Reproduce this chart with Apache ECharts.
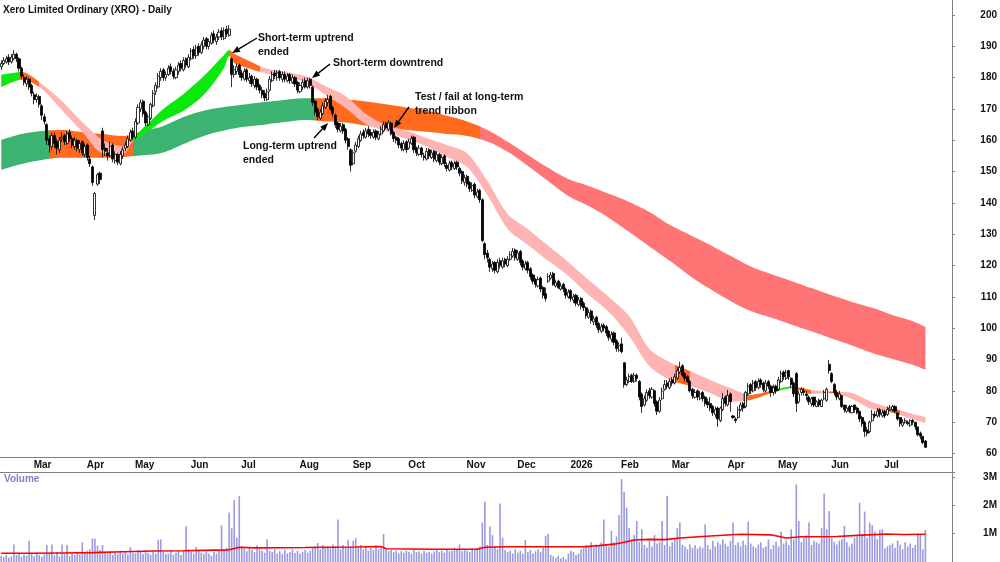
<!DOCTYPE html>
<html>
<head>
<meta charset="utf-8">
<script src="https://cdn.jsdelivr.net/npm/echarts@6.0.0/dist/echarts.min.js"></script>
<style>
  html, body { margin: 0; padding: 0; background: #fff; }
  #chart { width: 1000px; height: 562px; }
</style>
</head>
<body>
<div id="chart"></div>
<script>
// XRO daily, 13 Feb 2025 - 24 Jul 2026
const startDate = '2025-02-13';
const holidays = ['2025-04-18', '2025-04-21', '2025-04-25', '2025-06-09', '2025-12-25', '2025-12-26',
  '2026-01-01', '2026-01-26', '2026-04-03', '2026-04-06', '2026-06-08'];
const monthNames = ['Jan', 'Feb', 'Mar', 'Apr', 'May', 'Jun', 'Jul', 'Aug', 'Sep', 'Oct', 'Nov', 'Dec'];

const opens = [
  183.5, 184.5, 185.0, 186.5, 185.0, 186.0, 187.5, 186.0, 183.0, 180.0,
  178.0, 179.5, 177.5, 174.5, 173.0, 174.0, 171.0, 167.5, 165.0, 160.5,
  158.0, 161.5, 159.5, 157.0, 160.5, 161.5, 159.0, 162.5, 160.5, 158.0,
  160.0, 157.0, 159.5, 155.5, 158.5, 154.0, 151.5, 136.0, 146.0, 149.5,
  163.0, 157.5, 156.0, 155.0, 158.5, 153.5, 155.5, 152.5, 155.0, 157.5,
  158.0, 160.0, 163.0, 161.0, 165.5, 170.0, 172.5, 169.0, 165.0, 167.0,
  171.0, 175.5, 177.0, 180.0, 182.5, 180.0, 181.0, 183.5, 182.0, 180.0,
  182.0, 184.5, 182.5, 186.0, 183.5, 186.0, 189.0, 187.0, 190.0, 188.0,
  190.0, 192.5, 190.0, 191.0, 194.0, 191.5, 193.0, 195.0, 192.5, 195.5,
  193.5, 186.0, 181.0, 182.0, 184.0, 181.5, 179.5, 182.5, 179.0, 180.5,
  177.5, 179.5, 177.5, 176.0, 175.0, 173.0, 176.0, 179.0, 181.5, 180.0,
  182.0, 179.5, 181.0, 179.0, 181.0, 178.5, 180.0, 178.5, 175.5, 177.0,
  179.0, 177.0, 179.5, 177.0, 172.5, 170.0, 167.0, 168.5, 170.5, 172.0,
  174.0, 170.5, 168.0, 165.5, 163.0, 165.0, 163.5, 160.5, 157.0, 152.5,
  156.5, 158.0, 160.0, 162.5, 161.0, 163.5, 162.5, 161.0, 163.0, 160.5,
  162.0, 163.0, 165.5, 163.5, 165.5, 162.5, 161.0, 160.5, 159.0, 157.0,
  159.5, 157.5, 159.0, 161.0, 157.5, 155.5, 157.5, 155.0, 154.0, 157.0,
  154.5, 156.5, 153.5, 155.5, 152.5, 155.0, 152.0, 150.5, 153.0, 151.0,
  153.0, 151.0, 150.0, 146.5, 148.5, 146.5, 144.0, 146.0, 142.0, 144.0,
  141.0, 127.0, 124.0, 122.0, 119.0, 121.0, 118.0, 121.5, 119.5, 122.0,
  120.0, 122.0, 123.0, 125.0, 122.0, 124.5, 121.5, 119.0, 121.0, 119.0,
  117.0, 115.5, 113.5, 116.0, 113.0, 111.0, 115.0, 116.0, 117.5, 113.5,
  115.0, 112.5, 114.0, 112.5, 110.0, 112.0, 109.0, 110.5, 107.5, 109.5,
  108.0, 106.5, 103.5, 105.5, 102.0, 103.5, 101.5, 99.0, 101.0, 100.5,
  99.0, 96.5, 98.5, 96.0, 93.0, 95.0, 89.0, 82.0, 83.0, 85.0,
  83.0, 85.0, 83.0, 79.0, 75.5, 77.0, 80.0, 78.0, 80.0, 76.5,
  73.5, 77.5, 80.5, 82.5, 81.0, 83.5, 82.5, 84.0, 86.0, 88.0,
  85.5, 84.5, 83.0, 80.5, 78.0, 80.0, 77.5, 79.5, 78.0, 76.5,
  76.0, 75.0, 72.5, 74.5, 70.5, 74.0, 78.0, 75.5, 79.0, 72.0,
  71.0, 71.5, 74.0, 76.0, 75.0, 79.0, 82.0, 80.0, 83.0, 81.0,
  83.5, 82.5, 80.0, 83.0, 81.5, 79.5, 81.5, 80.5, 83.0, 86.0,
  84.0, 86.5, 84.0, 82.5, 85.5, 76.5, 79.5, 80.0, 79.0, 78.0,
  76.0, 78.0, 75.0, 77.0, 75.0, 77.5, 77.0, 88.5, 85.5, 82.0,
  79.5, 77.5, 78.5, 75.5, 73.5, 75.0, 73.0, 75.5, 74.5, 73.5,
  71.5, 70.0, 67.5, 67.0, 70.5, 72.5, 72.0, 74.0, 72.0, 73.5,
  72.5, 74.0, 74.0, 75.0, 73.0, 71.5, 69.0, 70.0, 70.0, 69.0,
  70.5, 70.0, 68.5, 66.5, 65.5, 64.0
];
const highs = [
  185.5, 186.5, 187.0, 187.5, 187.5, 188.8, 188.0, 186.5, 183.5, 181.0,
  180.5, 180.0, 178.0, 175.5, 175.0, 174.5, 171.5, 168.5, 165.5, 161.5,
  162.5, 162.5, 160.5, 161.0, 162.5, 162.0, 163.0, 163.5, 161.5, 161.0,
  160.5, 160.0, 160.0, 159.0, 159.0, 155.0, 152.0, 143.5, 149.5, 150.0,
  164.0, 159.0, 157.5, 159.5, 159.0, 156.5, 156.0, 156.5, 158.0, 159.5,
  161.5, 163.5, 164.0, 167.0, 171.5, 173.0, 173.0, 169.5, 168.5, 172.0,
  176.0, 178.5, 181.5, 183.0, 183.0, 182.0, 184.0, 184.5, 183.0, 183.5,
  185.0, 185.5, 186.5, 186.5, 187.5, 189.5, 190.0, 190.5, 191.0, 191.5,
  193.0, 193.0, 192.5, 194.5, 195.0, 194.0, 195.5, 196.0, 196.0, 196.5,
  196.8, 186.5, 184.0, 184.5, 184.5, 182.5, 183.0, 183.0, 181.5, 181.0,
  180.5, 180.0, 178.0, 177.0, 176.0, 176.5, 180.5, 182.0, 182.5, 182.5,
  182.5, 182.0, 182.0, 181.5, 181.5, 181.0, 180.5, 179.0, 178.5, 179.5,
  180.0, 180.0, 180.0, 177.5, 173.0, 170.5, 170.0, 172.0, 173.5, 174.5,
  174.5, 171.0, 168.5, 166.0, 165.5, 165.5, 164.0, 161.0, 157.5, 157.0,
  159.5, 161.5, 163.0, 163.5, 164.0, 164.5, 163.5, 163.5, 163.5, 163.0,
  164.5, 166.0, 166.0, 166.5, 166.0, 163.0, 161.5, 161.0, 159.5, 160.0,
  160.0, 160.5, 161.5, 161.5, 158.0, 158.5, 158.0, 156.0, 157.5, 157.5,
  157.0, 157.0, 156.5, 156.0, 155.5, 155.5, 153.0, 153.5, 153.5, 153.5,
  153.5, 151.5, 150.5, 149.0, 149.0, 147.0, 146.5, 146.5, 144.5, 144.5,
  141.5, 127.5, 125.0, 122.5, 121.5, 121.5, 122.0, 122.5, 122.5, 122.5,
  123.0, 124.5, 125.6, 125.5, 125.0, 125.0, 122.0, 121.5, 121.5, 119.5,
  117.5, 116.0, 116.5, 116.5, 113.5, 113.0, 117.5, 118.0, 118.0, 115.5,
  115.5, 114.5, 114.5, 113.0, 112.5, 112.5, 111.0, 111.0, 110.0, 110.0,
  108.5, 107.0, 106.0, 106.0, 104.0, 104.0, 102.0, 101.5, 101.6, 101.0,
  99.5, 99.0, 99.0, 96.5, 95.5, 97.0, 89.0, 84.5, 85.5, 85.5,
  85.7, 85.5, 83.5, 79.5, 78.5, 80.5, 81.0, 81.2, 80.3, 77.0,
  78.0, 81.0, 83.5, 83.5, 84.0, 84.4, 85.5, 87.5, 89.3, 88.5,
  86.0, 85.0, 83.5, 81.0, 80.5, 80.5, 80.0, 80.0, 78.5, 77.5,
  78.0, 75.5, 75.0, 75.0, 75.0, 79.3, 78.5, 80.3, 79.5, 72.3,
  71.5, 75.0, 76.4, 76.5, 80.0, 82.5, 82.5, 83.5, 83.5, 84.0,
  84.0, 83.0, 83.5, 83.5, 82.0, 82.0, 82.0, 84.5, 86.5, 86.5,
  86.7, 86.7, 84.4, 83.0, 86.0, 80.0, 81.2, 81.0, 80.0, 78.5,
  78.0, 78.0, 77.0, 77.5, 77.5, 80.3, 81.0, 89.9, 86.0, 82.5,
  80.3, 80.0, 78.5, 75.5, 75.5, 75.5, 75.5, 75.5, 75.0, 73.5,
  72.0, 70.5, 68.5, 70.5, 73.9, 73.5, 74.5, 74.5, 74.0, 74.0,
  75.0, 75.5, 75.5, 75.5, 73.0, 71.6, 71.0, 71.3, 70.5, 71.0,
  71.0, 70.0, 68.5, 67.0, 65.5, 64.3
];
const lows = [
  182.5, 184.0, 184.5, 184.0, 184.5, 185.5, 185.0, 182.0, 179.5, 177.5,
  177.0, 176.0, 174.0, 171.5, 172.0, 170.5, 166.5, 165.0, 158.5, 156.0,
  157.0, 157.5, 155.5, 156.0, 159.5, 158.5, 158.5, 159.5, 157.5, 157.0,
  156.5, 156.0, 155.0, 154.5, 153.5, 151.5, 145.5, 134.5, 145.5, 146.0,
  154.5, 155.0, 153.5, 154.5, 153.0, 152.5, 152.0, 152.0, 154.0, 156.5,
  157.5, 159.5, 160.0, 160.5, 165.0, 169.0, 167.5, 164.5, 164.5, 166.5,
  170.5, 174.5, 176.5, 179.0, 179.0, 179.0, 180.5, 181.0, 179.5, 179.5,
  181.0, 182.0, 182.0, 183.0, 183.0, 185.5, 186.0, 186.0, 187.0, 187.5,
  189.0, 189.0, 189.0, 190.5, 191.0, 190.5, 192.0, 192.0, 192.0, 193.0,
  193.0, 177.0, 180.0, 181.0, 180.0, 179.0, 179.0, 178.5, 178.0, 177.0,
  176.5, 176.0, 175.0, 173.5, 172.5, 172.5, 175.5, 178.5, 179.5, 179.0,
  179.0, 178.5, 178.5, 178.5, 178.0, 178.0, 177.0, 175.0, 175.0, 176.0,
  176.5, 176.5, 176.5, 171.0, 168.0, 166.5, 166.5, 168.0, 170.0, 171.0,
  169.5, 167.5, 164.0, 162.5, 162.5, 162.0, 159.0, 157.0, 150.0, 152.0,
  156.0, 157.5, 159.5, 160.5, 160.5, 161.0, 160.5, 160.5, 160.0, 160.0,
  161.5, 162.5, 163.5, 163.0, 161.5, 159.5, 159.0, 157.5, 156.5, 156.5,
  156.0, 157.0, 158.5, 156.0, 155.0, 155.0, 154.5, 153.5, 153.5, 154.0,
  154.0, 153.0, 153.0, 152.0, 152.0, 151.5, 150.0, 150.0, 150.5, 150.5,
  150.5, 148.5, 146.0, 145.5, 145.0, 143.5, 143.5, 141.5, 141.5, 140.0,
  127.5, 122.0, 121.0, 118.0, 118.0, 117.5, 117.5, 119.0, 119.0, 119.5,
  119.5, 121.5, 122.5, 121.5, 121.5, 120.0, 118.5, 118.5, 117.5, 115.5,
  114.0, 113.0, 113.0, 111.5, 109.5, 108.5, 114.5, 115.5, 113.5, 113.0,
  112.5, 112.0, 111.5, 109.5, 109.5, 108.5, 108.0, 107.0, 107.0, 106.0,
  105.5, 103.0, 103.0, 101.5, 101.0, 100.0, 98.5, 98.5, 99.0, 97.5,
  96.0, 95.5, 94.5, 92.5, 92.5, 92.0, 81.0, 81.5, 82.5, 82.5,
  82.5, 83.0, 77.0, 73.0, 75.0, 76.5, 77.5, 77.5, 75.0, 72.3,
  73.0, 77.0, 80.0, 80.5, 80.5, 81.5, 82.0, 83.5, 85.5, 84.5,
  83.0, 82.5, 79.5, 77.5, 77.5, 77.0, 77.0, 76.5, 75.0, 74.5,
  73.5, 72.0, 71.5, 68.5, 70.0, 73.5, 75.0, 75.0, 73.3, 71.0,
  69.7, 71.0, 73.5, 73.3, 74.5, 78.5, 79.0, 79.5, 80.0, 80.5,
  81.0, 79.6, 79.5, 80.5, 78.0, 78.5, 79.0, 80.0, 82.5, 83.5,
  83.5, 83.5, 81.0, 78.0, 73.3, 76.0, 78.5, 78.5, 77.0, 75.5,
  75.0, 74.8, 74.8, 74.8, 74.8, 77.0, 76.5, 85.5, 82.5, 78.5,
  77.0, 77.0, 74.5, 73.0, 73.0, 72.9, 72.9, 73.0, 72.5, 70.0,
  68.5, 65.3, 65.5, 66.5, 70.0, 71.3, 71.5, 71.5, 71.5, 71.3,
  72.0, 73.5, 73.5, 72.9, 70.5, 68.5, 68.5, 69.5, 69.0, 68.5,
  69.0, 67.5, 65.5, 64.5, 63.0, 61.8
];
const closes = [
  184.5, 185.5, 186.0, 185.0, 186.5, 187.5, 186.0, 183.0, 180.5, 178.5,
  179.5, 177.0, 175.0, 173.0, 174.0, 171.5, 168.0, 166.0, 160.0, 158.5,
  161.5, 159.0, 157.5, 160.0, 161.0, 159.5, 162.0, 160.5, 158.5, 160.0,
  157.5, 159.0, 156.0, 158.0, 154.5, 152.5, 146.5, 143.0, 149.0, 147.5,
  157.0, 156.5, 155.0, 158.0, 154.0, 155.5, 153.0, 155.5, 157.0, 158.5,
  160.5, 162.5, 161.0, 166.0, 170.5, 172.0, 168.5, 165.5, 167.5, 171.5,
  175.0, 177.5, 180.5, 182.0, 180.0, 181.0, 183.0, 182.0, 180.5, 182.5,
  184.0, 183.0, 185.5, 184.0, 186.5, 188.5, 187.0, 189.5, 188.0, 190.5,
  192.0, 190.0, 191.5, 193.5, 192.0, 193.0, 194.5, 193.0, 195.0, 194.0,
  195.5, 181.0, 182.5, 183.5, 181.0, 180.0, 182.0, 179.5, 180.0, 178.0,
  179.5, 177.0, 176.0, 174.5, 173.5, 175.5, 179.5, 181.0, 180.5, 181.5,
  180.0, 181.0, 179.5, 180.5, 179.0, 180.0, 178.0, 176.0, 177.5, 178.5,
  177.0, 179.0, 177.5, 172.0, 169.0, 167.5, 169.0, 171.0, 172.5, 173.0,
  170.0, 168.5, 165.0, 163.5, 164.5, 163.0, 160.0, 158.0, 152.0, 156.0,
  158.5, 160.5, 162.0, 161.5, 163.0, 162.0, 161.5, 162.5, 161.0, 162.0,
  163.5, 165.0, 164.0, 165.5, 162.0, 160.5, 160.0, 158.5, 157.5, 159.0,
  157.0, 159.5, 160.5, 157.0, 156.0, 157.5, 155.5, 154.5, 156.5, 155.0,
  156.0, 154.0, 155.5, 153.0, 154.5, 152.5, 151.0, 152.5, 151.5, 152.5,
  151.5, 149.5, 147.0, 148.0, 146.0, 144.5, 145.5, 142.5, 143.5, 141.0,
  128.0, 123.5, 122.5, 119.5, 120.5, 118.5, 121.0, 120.0, 121.5, 120.5,
  122.0, 123.5, 124.5, 122.5, 124.0, 121.0, 119.5, 120.5, 118.5, 116.5,
  115.0, 114.0, 115.5, 112.5, 110.5, 109.5, 116.5, 117.0, 114.0, 114.5,
  113.0, 113.5, 112.5, 110.5, 111.5, 109.5, 110.0, 108.0, 109.0, 107.0,
  106.5, 104.0, 105.0, 102.5, 103.0, 101.0, 99.5, 100.5, 100.0, 98.5,
  97.0, 98.0, 95.5, 93.5, 94.5, 92.5, 82.0, 83.5, 84.5, 83.0,
  85.0, 84.0, 78.0, 75.0, 77.5, 79.5, 78.5, 80.5, 76.0, 73.5,
  77.0, 80.0, 82.0, 81.5, 83.0, 82.5, 84.5, 86.5, 87.5, 85.0,
  84.0, 83.0, 80.0, 78.5, 79.5, 78.0, 79.0, 77.5, 76.0, 75.5,
  74.5, 73.0, 74.0, 71.0, 74.5, 77.5, 76.0, 78.5, 76.5, 71.5,
  70.5, 74.0, 75.5, 74.5, 79.5, 81.5, 80.0, 82.5, 81.0, 83.0,
  82.0, 80.5, 82.5, 81.5, 79.5, 81.0, 80.0, 83.5, 85.5, 84.5,
  86.0, 84.5, 82.0, 79.0, 76.0, 79.0, 80.5, 79.5, 78.5, 76.5,
  77.5, 75.5, 76.5, 75.5, 77.0, 79.5, 80.5, 86.5, 83.0, 79.5,
  78.0, 79.0, 75.0, 74.0, 74.5, 73.5, 75.0, 74.0, 73.0, 71.0,
  69.5, 67.0, 66.5, 70.0, 72.5, 72.0, 73.5, 72.5, 73.0, 72.0,
  74.0, 74.5, 75.0, 73.5, 71.0, 69.5, 70.0, 70.5, 69.5, 70.5,
  70.0, 68.5, 66.0, 65.5, 63.5, 62.0
];
// volume in millions of shares
const volumes = [
  0.22, 0.18, 0.25, 0.15, 0.2, 0.62, 0.24, 0.3, 0.19, 0.26,
  0.22, 0.75, 0.28, 0.2, 0.33, 0.25, 0.18, 0.27, 0.6, 0.3,
  0.62, 0.24, 0.35, 0.2, 0.62, 0.28, 0.6, 0.22, 0.3, 0.25,
  0.32, 0.27, 0.7, 0.36, 0.4, 0.45, 0.83, 0.82, 0.58, 0.42,
  0.6, 0.35, 0.3, 0.38, 0.25, 0.33, 0.28, 0.4, 0.3, 0.35,
  0.27, 0.52, 0.33, 0.3, 0.42, 0.36, 0.28, 0.4, 0.32, 0.26,
  0.38, 0.3, 0.78, 0.8, 0.35, 0.28, 0.3, 0.4, 0.26, 0.33,
  0.38, 0.25, 0.4, 1.26, 0.45, 0.36, 0.3, 0.53, 0.42, 0.33,
  0.28, 0.38, 0.3, 0.22, 0.35, 0.3, 0.4, 1.3, 0.45, 0.5,
  1.75, 1.19, 2.19, 0.86, 2.33, 0.55, 0.48, 0.38, 0.5, 0.42,
  0.35, 0.58, 0.45, 0.4, 0.33, 0.8, 0.4, 0.35, 0.45, 0.3,
  0.38, 0.28, 0.42, 0.3, 0.35, 0.45, 0.32, 0.4, 0.3, 0.36,
  0.42, 0.33, 0.4, 0.5, 0.55, 0.67, 0.45, 0.6, 0.5, 0.55,
  0.48, 0.62, 0.55, 1.5, 0.45, 0.6, 0.5, 0.79, 0.55, 0.75,
  0.84, 0.5, 0.6, 0.45, 0.55, 0.4, 0.5, 0.42, 0.6, 0.45,
  0.5, 0.99, 0.45, 0.38, 0.42, 0.35, 0.4, 0.3, 0.38, 0.33,
  0.4, 0.36, 0.3, 0.42, 0.35, 0.38, 0.3, 0.4, 0.33, 0.36,
  0.3, 0.38, 0.42, 0.35, 0.4, 0.33, 0.45, 0.38, 0.4, 0.5,
  0.42, 0.62, 0.38, 0.45, 0.4, 0.35, 0.48, 0.42, 0.5, 0.55,
  1.4, 2.13, 0.6, 1.25, 0.95, 0.55, 0.45, 2.07, 0.86, 0.42,
  0.35, 0.4, 0.3, 0.45, 0.33, 0.4, 0.3, 0.78, 0.35, 0.42,
  0.3, 0.38, 0.45, 0.35, 0.5, 0.92, 1.0, 0.25, 0.2, 0.15,
  0.22, 0.12, 0.18, 0.1, 0.3, 0.4, 0.35, 0.25, 0.3, 0.45,
  0.5, 0.6, 0.55, 0.7, 0.5, 0.62, 0.58, 0.7, 1.5, 0.6,
  0.55, 1.1, 0.7, 0.9, 1.66, 2.93, 2.48, 1.92, 1.21, 0.8,
  0.95, 1.45, 0.7, 1.16, 0.6, 0.5, 0.75, 0.55, 0.95, 0.65,
  0.7, 1.45, 0.6, 2.34, 0.55, 0.7, 0.85, 1.19, 1.4, 0.6,
  0.55, 0.45, 0.62, 0.5, 0.6, 0.48, 0.55, 0.5, 1.33, 0.6,
  0.45, 0.75, 0.55, 0.7, 0.62, 0.8, 0.65, 0.55, 0.75, 1.4,
  0.6, 0.7, 0.55, 0.75, 0.6, 1.42, 0.65, 0.55, 0.5, 0.62,
  0.7, 0.5, 0.55, 0.8, 0.45, 0.6, 0.72, 0.55, 1.07, 0.65,
  0.75, 0.6, 1.16, 0.8, 2.74, 1.45, 0.7, 0.85, 0.95, 1.4,
  0.6, 0.75, 0.7, 0.65, 1.19, 2.42, 1.16, 1.8, 0.85, 0.7,
  0.62, 0.75, 0.8, 1.28, 0.7, 0.55, 0.65, 0.85, 0.9, 2.09,
  0.95, 1.78, 0.85, 1.39, 1.3, 1.07, 0.8, 1.13, 1.16, 0.48,
  0.55, 0.6, 0.66, 0.5, 0.75, 0.62, 0.45, 0.7, 0.55, 0.65,
  0.5, 0.6, 1.0, 0.99, 0.45, 1.13
];

// volume moving average, read at these bar numbers
const volMaIdx = [0, 12, 24, 36, 48, 60, 72, 84, 90, 94, 100, 120, 140, 150, 152, 170, 188, 191, 200, 215,
  230, 236, 242, 246, 250, 256, 262, 268, 280, 292, 304, 310, 316, 330, 340, 350, 356, 365];
const volMa = [0.31, 0.31, 0.32, 0.33, 0.36, 0.39, 0.4, 0.42, 0.43, 0.52, 0.5, 0.51, 0.53, 0.55, 0.47, 0.45, 0.45, 0.52, 0.54, 0.54,
  0.54, 0.58, 0.63, 0.7, 0.78, 0.8, 0.79, 0.85, 0.92, 0.98, 0.96, 0.85, 0.89, 0.9, 0.95, 0.99, 0.97, 0.98];

// long-term ribbon edges
const ltIdx = [0, 8, 16, 24, 32, 40, 48, 56, 64, 72, 80, 88, 96, 104, 112, 120, 128, 136, 144, 152, 160, 168, 176, 184,
  192, 200, 208, 216, 224, 232, 240, 248, 256, 264, 272, 280, 288, 296, 304, 312, 320, 328, 336, 344, 352, 360, 365];
const ltTop = [160.1, 162.0, 163.0, 163.3, 162.6, 162.0, 161.4, 163.0, 164.6, 167.4, 169.4, 170.6, 171.4, 172.2, 172.9, 173.4,
  173.4, 173.0, 172.4, 171.5, 170.5, 169.4, 167.8, 166.0, 163.3, 159.5, 155.3, 151.2, 147.6, 145.4, 142.9, 140.3,
  137.1, 133.0, 129.8, 126.6, 123.1, 119.7, 117.3, 115.1, 112.8, 110.5, 108.4, 106.5, 104.2, 102.2, 100.4];
const ltBot = [150.5, 152.4, 153.7, 154.4, 154.4, 154.4, 154.7, 155.2, 156.1, 158.8, 161.4, 163.1, 164.3, 165.0, 165.8, 166.5,
  166.0, 165.7, 164.7, 163.9, 163.3, 162.7, 162.0, 161.4, 159.6, 156.3, 151.8, 147.0, 142.2, 139.0, 135.2, 130.7,
  126.1, 121.5, 116.7, 112.5, 108.7, 105.5, 103.4, 101.2, 99.0, 96.7, 94.5, 92.1, 90.2, 88.3, 86.7];
const ltStateStart = [0, 19, 52, 124, 189];
const ltState = ['up', 'flat', 'up', 'flat', 'down'];

// short-term ribbon edges
const stIdx = [0, 8, 16, 24, 32, 40, 48, 52, 56, 64, 72, 80, 88, 90, 92, 96, 104, 112, 120, 128, 136, 144, 152, 160, 168,
  176, 184, 192, 200, 208, 216, 224, 232, 240, 248, 256, 264, 272, 280, 288, 296, 304, 312, 320, 328, 336, 344, 352, 360, 365];
const stTop = [180.9, 181.8, 178.0, 172.5, 165.8, 160.1, 158.2, 160.7, 163.9, 170.0, 174.8, 180.5, 187.2, 188.8, 187.6, 186.0,
  183.1, 181.8, 180.5, 177.3, 174.1, 168.4, 164.9, 163.1, 160.7, 158.5, 155.9, 147.0, 136.5, 131.7, 126.3, 121.1,
  115.4, 110.0, 103.9, 93.4, 89.2, 86.3, 83.5, 80.9, 78.7, 80.0, 81.4, 80.3, 79.8, 79.3, 76.4, 74.5, 72.6, 71.7];
const stBot = [176.9, 179.3, 176.4, 169.6, 162.7, 155.9, 155.6, 159.8, 161.7, 166.2, 169.4, 174.5, 183.1, 186.9, 184.7, 183.4,
  181.5, 180.2, 178.6, 174.5, 170.3, 165.2, 162.8, 160.4, 158.0, 154.7, 151.5, 142.5, 131.7, 126.6, 121.5, 116.7,
  110.6, 105.2, 97.5, 87.9, 83.5, 81.6, 79.3, 76.6, 77.1, 79.2, 80.8, 79.0, 79.2, 77.4, 74.1, 73.0, 70.9, 69.7];
const stStateStart = [0, 7, 15, 52, 90, 102, 266, 272, 293, 306, 312, 320, 327, 331, 351, 355];
const stState = ['up', 'flat', 'down', 'up', 'flat', 'down', 'flat', 'down', 'flat', 'up', 'flat', 'down', 'flat', 'down', 'flat', 'down'];

const ltColors = { up: '#3cb371', flat: '#ff6a1f', down: '#ff7474' };
const stColors = { up: '#0be80b', flat: '#ff6a1f', down: '#ffb4b4' };

// trading-day categories (+ empty room on the right)
const padDays = 10;
const dates = [];
(function () {
  const d = new Date(startDate + 'T00:00:00Z');
  while (dates.length < closes.length + padDays) {
    const s = d.toISOString().slice(0, 10);
    const wd = d.getUTCDay();
    if (wd !== 0 && wd !== 6 && holidays.indexOf(s) < 0) dates.push(s);
    d.setUTCDate(d.getUTCDate() + 1);
  }
})();
function isMonthStart(i) {
  return i > 0 && i < closes.length && dates[i].slice(5, 7) !== dates[i - 1].slice(5, 7);
}

function pieces(starts, states, colors) {
  return starts.map((s, k) => ({
    gte: s, lt: k + 1 < starts.length ? starts[k + 1] : 100000, color: colors[states[k]]
  }));
}

function ribbon(name, idx, top, bot, smooth) {
  return [
    {
      name: name + 'base', type: 'line', stack: name, xAxisIndex: 0, yAxisIndex: 0,
      data: idx.map((d, k) => [d, bot[k]]), symbol: 'none', smooth: smooth,
      lineStyle: { width: 0, opacity: 0 }, silent: true
    },
    {
      name: name, type: 'line', stack: name, xAxisIndex: 0, yAxisIndex: 0,
      data: idx.map((d, k) => [d, +(top[k] - bot[k]).toFixed(2)]), symbol: 'none', smooth: smooth,
      lineStyle: { width: 0 }, areaStyle: { opacity: 1 }, silent: true
    }
  ];
}

function arrow(x1, y1, x2, y2) {
  const a = Math.atan2(y2 - y1, x2 - x1), len = 8, w = 3.2;
  const bx = x2 - len * Math.cos(a), by = y2 - len * Math.sin(a);
  const nx = -Math.sin(a) * w, ny = Math.cos(a) * w;
  return [
    { type: 'line', shape: { x1: x1, y1: y1, x2: bx, y2: by }, style: { stroke: '#000', lineWidth: 1.4 }, z: 100 },
    { type: 'polygon', shape: { points: [[x2, y2], [bx + nx, by + ny], [bx - nx, by - ny]] }, style: { fill: '#000' }, z: 100 }
  ];
}

const font = '"Liberation Sans", Arial, sans-serif';
function label(text, x, y, size) {
  return {
    type: 'text', x: x, y: y, z: 100,
    style: { text: text, fill: '#111', font: 'bold ' + (size || 10.5) + 'px ' + font, lineHeight: 14, verticalAlign: 'top' }
  };
}

const chart = echarts.init(document.getElementById('chart'));
chart.setOption({
  animation: false,
  backgroundColor: '#fff',
  textStyle: { fontFamily: font },
  grid: [
    { left: 0, right: 48, top: 15, height: 438.5 },
    { left: 0, right: 48, top: 472, height: 90 }
  ],
  xAxis: [
    {
      type: 'category', gridIndex: 0, data: dates, offset: 3.5,
      axisLine: { lineStyle: { color: '#808080', width: 1 } },
      axisTick: { alignWithLabel: true, length: 3, interval: isMonthStart, lineStyle: { color: '#808080' } },
      axisLabel: {
        interval: isMonthStart, align: 'left', margin: 3, padding: [0, 0, 0, 2],
        fontSize: 10, fontWeight: 'bold', color: '#111',
        formatter: v => (v.slice(5, 7) === '01' ? v.slice(0, 4) : monthNames[+v.slice(5, 7) - 1])
      },
      splitLine: { show: false }
    },
    {
      type: 'category', gridIndex: 1, data: dates,
      axisLine: { show: false }, axisTick: { show: false }, axisLabel: { show: false }, splitLine: { show: false }
    }
  ],
  yAxis: [
    {
      type: 'value', gridIndex: 0, position: 'right', min: 60, max: 200, interval: 10,
      axisLine: { show: false },
      axisTick: { show: true, length: 3, lineStyle: { color: '#808080' } },
      axisLabel: { align: 'right', margin: 45, fontSize: 10, fontWeight: 'bold', color: '#111' },
      splitLine: { show: false }
    },
    {
      type: 'value', gridIndex: 1, position: 'right', min: 0, max: 3.18, interval: 1,
      axisLine: { show: false },
      axisTick: { show: true, length: 3, lineStyle: { color: '#808080' } },
      axisLabel: {
        align: 'right', margin: 45, fontSize: 10, fontWeight: 'bold', color: '#111',
        formatter: v => (v > 0 && Math.abs(v - Math.round(v)) < 1e-6 ? Math.round(v) + 'M' : '')
      },
      splitLine: { show: false }
    }
  ],
  visualMap: [
    { type: 'piecewise', show: false, seriesIndex: 1, dimension: 0, pieces: pieces(ltStateStart, ltState, ltColors) },
    { type: 'piecewise', show: false, seriesIndex: 3, dimension: 0, pieces: pieces(stStateStart, stState, stColors) }
  ],
  series: [
    ...ribbon('lt', ltIdx, ltTop, ltBot, 0.4),
    ...ribbon('st', stIdx, stTop, stBot, 0.3),
    {
      name: 'XRO', type: 'candlestick', xAxisIndex: 0, yAxisIndex: 0,
      data: closes.map((c, i) => [opens[i], c, lows[i], highs[i]]),
      barWidth: 2.6,
      itemStyle: { color: '#fff', color0: '#000', borderColor: '#000', borderColor0: '#000', borderWidth: 0.8 },
      z: 5
    },
    {
      name: 'Volume', type: 'bar', xAxisIndex: 1, yAxisIndex: 1, data: volumes,
      barWidth: 1.6, itemStyle: { color: '#9a9ade' }, silent: true
    },
    {
      name: 'Volume MA', type: 'line', xAxisIndex: 1, yAxisIndex: 1,
      data: volMaIdx.map((d, k) => [d, volMa[k]]), symbol: 'none',
      lineStyle: { color: '#ff0000', width: 1.6 }, z: 5
    }
  ],
  graphic: [
    { type: 'line', shape: { x1: 952.5, y1: 0, x2: 952.5, y2: 562 }, style: { stroke: '#808080', lineWidth: 1 } },
    { type: 'line', shape: { x1: 0, y1: 472.5, x2: 952, y2: 472.5 }, style: { stroke: '#808080', lineWidth: 1 } },
    label('Xero Limited Ordinary (XRO) - Daily', 3, 3, 10),
    {
      type: 'text', x: 4, y: 474, z: 100,
      style: { text: 'Volume', fill: '#8080c4', font: 'bold 10px ' + font, verticalAlign: 'top' }
    },
    label('Short-term uptrend\nended', 258, 31),
    label('Short-term downtrend', 333, 56),
    label('Test / fail at long-term\ntrend ribbon', 415, 90),
    label('Long-term uptrend\nended', 243, 139),
    ...arrow(257, 38, 232, 53),
    ...arrow(330, 64, 312, 78),
    ...arrow(409, 107, 394, 128),
    ...arrow(314, 138, 328, 123)
  ]
});
</script>
</body>
</html>
